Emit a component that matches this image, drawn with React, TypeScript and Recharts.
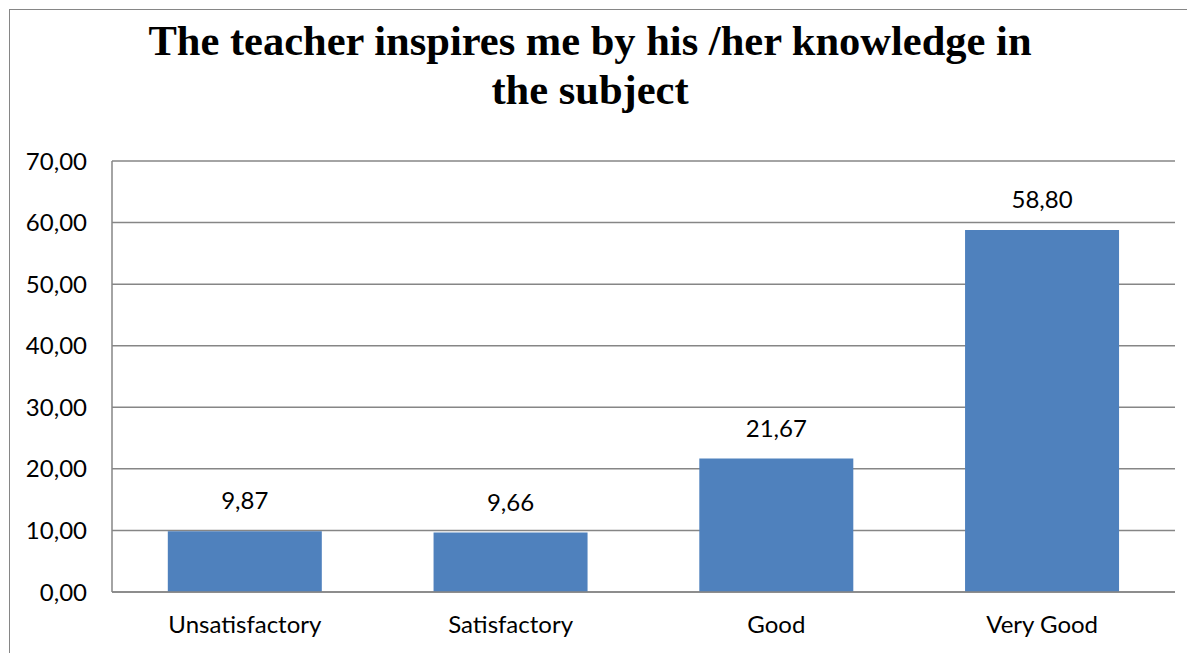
import React from "react";
import { BarChart, Bar, XAxis, YAxis, CartesianGrid, LabelList } from "recharts";

const categories = ["Unsatisfactory", "Satisfactory", "Good", "Very Good"];
const values = [9.87, 9.66, 21.67, 58.8];
const yTicks = [0, 10, 20, 30, 40, 50, 60, 70];
const titleLines = ["The teacher inspires me by his /her knowledge in", "the subject"];

const data = categories.map((c, i) => ({ name: c, value: values[i] }));

const fmt = (v: number) => v.toFixed(2).replace(".", ",");
const FONT = "Lato, 'Open Sans', sans-serif";

export default function App() {
  return (
    <div style={{ position: "relative", width: 1187, height: 645 }}>
      <div
        style={{
          position: "absolute",
          left: 1,
          top: 1,
          width: 1200,
          height: 700,
          borderLeft: "1.5px solid #868686",
          borderTop: "1.5px solid #868686",
          boxSizing: "border-box",
        }}
      />
      <div
        style={{
          position: "absolute",
          left: 0,
          top: 8,
          width: 1164,
          textAlign: "center",
          fontFamily: "'Liberation Serif', 'Times New Roman', serif",
          fontWeight: "bold",
          fontSize: 42.5,
          lineHeight: "49px",
          color: "#000",
        }}
      >
        {titleLines.map((l) => (
          <div key={l}>{l}</div>
        ))}
      </div>
      <div style={{ position: "absolute", left: 0, top: 0 }}>
        <BarChart
          width={1187}
          height={645}
          data={data}
          margin={{ top: 153, right: 20, bottom: 0, left: 0 }}
          barCategoryGap="21%"
        >
          <CartesianGrid vertical={false} stroke="#868686" strokeWidth={1.5} />
          <XAxis
            dataKey="name"
            axisLine={{ stroke: "#868686", strokeWidth: 1.5 }}
            tickLine={false}
            tickSize={0}
            tickMargin={24}
            height={61}
            tick={{ fill: "#000", fontSize: 24, fontFamily: FONT }}
            interval={0}
          />
          <YAxis
            domain={[0, 70]}
            ticks={yTicks}
            tickFormatter={fmt}
            axisLine={{ stroke: "#868686", strokeWidth: 1.5 }}
            tickLine={false}
            tickSize={0}
            tickMargin={25}
            width={104}
            tick={{ fill: "#000", fontSize: 24, fontFamily: FONT }}
            interval={0}
          />
          <Bar dataKey="value" fill="#4f81bd" isAnimationActive={false}>
            <LabelList
              dataKey="value"
              position="top"
              offset={22}
              formatter={(v: number) => fmt(v)}
              style={{ fill: "#000", fontSize: 24, fontFamily: FONT }}
            />
          </Bar>
        </BarChart>
      </div>
    </div>
  );
}
